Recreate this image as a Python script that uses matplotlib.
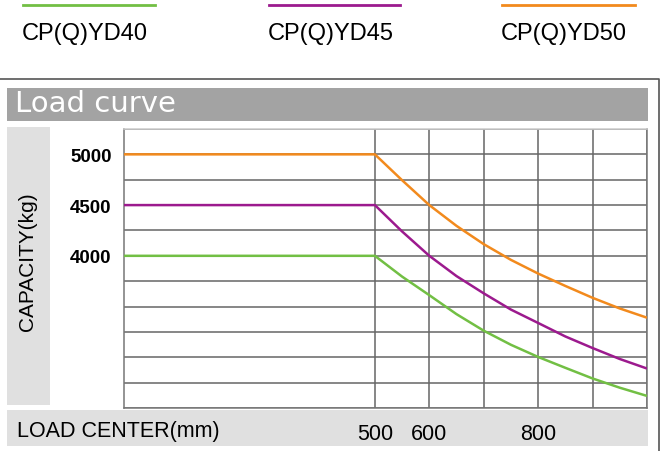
"""Load curve chart for the CP(Q)YD40/45/50 forklift series."""

import matplotlib.pyplot as plt
from matplotlib.patches import Rectangle
from matplotlib.lines import Line2D

W, H = 670, 452

# data
load_center = [0, 500, 550, 600, 650, 700, 750, 800, 850, 900, 950, 1000]
cap_yd40 = [4000, 4000, 3795, 3612, 3425, 3262, 3123, 3003, 2896, 2791, 2700, 2619]
cap_yd45 = [4500, 4500, 4240, 4000, 3800, 3630, 3470, 3338, 3205, 3091, 2983, 2889]
cap_yd50 = [5000, 5000, 4745, 4500, 4295, 4115, 3960, 3825, 3703, 3586, 3481, 3390]

models = ["CP(Q)YD40", "CP(Q)YD45", "CP(Q)YD50"]
colors = ["#72bf44", "#9c1a8e", "#f28a1d"]
series = [cap_yd40, cap_yd45, cap_yd50]

x_ticks = [500, 600, 700, 800, 900, 1000]
x_labels = ["500", "600", "", "800", "", ""]
y_ticks = list(range(2500, 5251, 250))
y_labels = [str(v) if v in (4000, 4500, 5000) else "" for v in y_ticks]

FONT = "Liberation Sans"


def fx(x):
    return x / W


def fy(y):
    return 1 - y / H


def box(fig, x0, y0, x1, y1, **kw):
    # background bands sit below the axes so the tick labels stay on top
    fig.patches.append(Rectangle((fx(x0), fy(y1)), fx(x1) - fx(x0), fy(y0) - fy(y1),
                                 transform=fig.transFigure, zorder=-1, **kw))


fig = plt.figure(figsize=(W / 100, H / 100), dpi=100)

# legend on top: short line with label underneath
legend_pos = [(23, 155), (269, 400), (502, 635)]
for (x0, x1), name, c in zip(legend_pos, models, colors):
    fig.lines.append(Line2D([fx(x0), fx(x1)], [fy(6), fy(6)], color=c, lw=2,
                            transform=fig.transFigure))
    fig.text(fx(x0 - 1), fy(34), name, fontsize=17, family=FONT,
             ha="left", va="center")

# outer frame (top and right edges)
fig.lines.append(Line2D([0, fx(659), fx(659)], [fy(80), fy(80), 0], color="#555555",
                        lw=1.2, transform=fig.transFigure))

# title band
box(fig, 7, 89, 648, 122, color="#a3a3a3", lw=0)
fig.text(fx(15), fy(104), "Load curve", fontsize=21, color="white",
         family="DejaVu Sans", ha="left", va="center")

# left strip and bottom band
box(fig, 7, 128, 50, 406, color="#e0e0e0", lw=0)
box(fig, 7, 411, 648, 447, color="#e0e0e0", lw=0)
fig.text(fx(28), fy(262), "CAPACITY(kg)", fontsize=15, family=FONT,
         rotation=90, ha="center", va="center")
fig.text(fx(17), fy(432), "LOAD CENTER(mm)", fontsize=15.5, family=FONT,
         ha="left", va="center")

ax = fig.add_axes([fx(124), fy(409), fx(647) - fx(124), fy(130) - fy(409)])
for y, c in zip(series, colors):
    ax.plot(load_center, y, color=c, lw=1.8, solid_capstyle="butt", zorder=3)

ax.set_xlim(39, 1000)
ax.set_ylim(2500, 5250)
ax.set_xticks(x_ticks)
ax.set_xticklabels(x_labels, family=FONT, fontsize=15.5)
ax.set_yticks(y_ticks)
ax.set_yticklabels(y_labels, family=FONT, fontsize=13.5, fontweight="bold")
ax.tick_params(axis="x", length=0, pad=10.5)
ax.tick_params(axis="y", length=0, pad=9)
ax.grid(True, color="#666666", lw=1.1)
ax.set_axisbelow(True)
for side, sp in ax.spines.items():
    sp.set_color("#cccccc" if side == "top" else "#777777")
    sp.set_linewidth(1.1)

fig.savefig("out.png", dpi=100)
